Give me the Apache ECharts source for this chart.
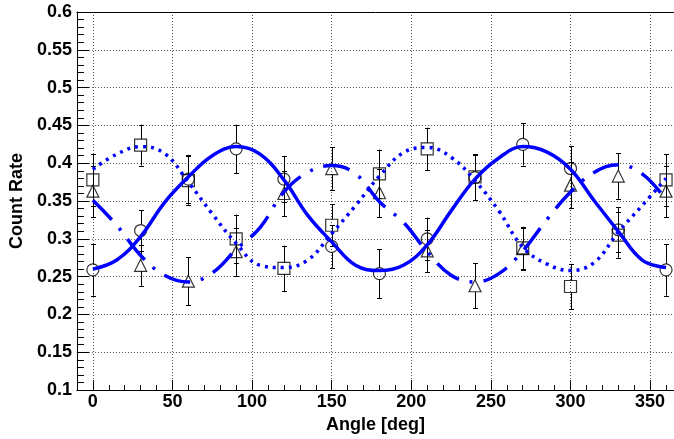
<!DOCTYPE html>
<html>
<head>
<meta charset="utf-8">
<script src="https://cdn.jsdelivr.net/npm/echarts@6/dist/echarts.min.js"></script>
<style>
  html, body { margin: 0; padding: 0; background: #fff; }
  #chart { width: 674px; height: 439px; }
</style>
</head>
<body>
<div id="chart"></div>
<script>
// Measured count rates versus polarimeter angle, three data sets
const angles = [0, 30, 60, 90, 120, 150, 180, 210, 240, 270, 300, 330, 360];
const circleRate   = [0.259, 0.311, 0.379, 0.419, 0.379, 0.290, 0.254, 0.300, 0.381, 0.425, 0.393, 0.312, 0.259];
const triangleRate = [0.363, 0.265, 0.244, 0.283, 0.360, 0.393, 0.361, 0.284, 0.238, 0.287, 0.371, 0.383, 0.363];
const squareRate   = [0.378, 0.424, 0.377, 0.300, 0.261, 0.318, 0.386, 0.419, 0.382, 0.288, 0.237, 0.305, 0.378];
const rateError    = [0.034, 0.027, 0.032, 0.032, 0.030, 0.028, 0.032, 0.028, 0.030, 0.028, 0.030, 0.030, 0.034];

// Fitted curves, sampled every 15 degrees
const fitAngles = [0, 15, 30, 45, 60, 75, 90, 105, 120, 135, 150, 165, 180,
                   195, 210, 225, 240, 255, 270, 285, 300, 315, 330, 345, 360];
const circleFit   = [0.260, 0.272, 0.303, 0.348, 0.382, 0.410, 0.422, 0.412, 0.378, 0.331, 0.296, 0.265, 0.258,
                     0.265, 0.292, 0.337, 0.379, 0.407, 0.422, 0.415, 0.392, 0.350, 0.310, 0.272, 0.262];
const squareFit   = [0.392, 0.412, 0.422, 0.413, 0.375, 0.333, 0.294, 0.265, 0.262, 0.272, 0.307, 0.344, 0.383,
                     0.414, 0.421, 0.408, 0.377, 0.337, 0.289, 0.267, 0.258, 0.269, 0.309, 0.344, 0.380];
const triangleFit = [0.351, 0.318, 0.278, 0.252, 0.243, 0.255, 0.286, 0.315, 0.362, 0.388, 0.397, 0.386, 0.349,
                     0.322, 0.283, 0.252, 0.243, 0.254, 0.284, 0.325, 0.362, 0.388, 0.398, 0.386, 0.352];

// Tick labels
const xMajorTicks = [0, 50, 100, 150, 200, 250, 300, 350];
const xMinorTicks = [0, 10, 20, 30, 40, 60, 70, 80, 90, 110, 120, 130, 140, 160, 170, 180, 190,
                     210, 220, 230, 240, 260, 270, 280, 290, 310, 320, 330, 340, 360];

const FONT = '"Liberation Sans", Arial, Helvetica, sans-serif';
const BLUE = '#0000ff';
const LABEL = { fontFamily: FONT, fontWeight: 'bold', fontSize: 18, color: '#000' };

function pairs(xs, ys) { return xs.map((x, i) => [x, ys[i]]); }

// vertical error bars with end caps, leaving a gap where the marker sits
function errorBars(values, gap) {
  return {
    type: 'custom',
    z: 2,
    silent: true,
    encode: { x: 0, y: [1, 2] },
    data: angles.map((a, i) => [a, values[i] - rateError[i], values[i] + rateError[i], values[i]]),
    renderItem(params, api) {
      const x = api.value(0);
      const lo = api.coord([x, api.value(1)]);
      const hi = api.coord([x, api.value(2)]);
      const mid = api.coord([x, api.value(3)]);
      const px = Math.round(lo[0]) + 0.5;
      const cap = 2.5;
      const style = { stroke: '#000', lineWidth: 1 };
      return {
        type: 'group',
        children: [
          { type: 'line', shape: { x1: px, y1: hi[1], x2: px, y2: mid[1] - gap }, style },
          { type: 'line', shape: { x1: px, y1: mid[1] + gap, x2: px, y2: lo[1] }, style },
          { type: 'line', shape: { x1: px - cap, y1: Math.round(hi[1]) + 0.5, x2: px + cap, y2: Math.round(hi[1]) + 0.5 }, style },
          { type: 'line', shape: { x1: px - cap, y1: Math.round(lo[1]) + 0.5, x2: px + cap, y2: Math.round(lo[1]) + 0.5 }, style }
        ]
      };
    }
  };
}

function markers(values, symbol) {
  return {
    type: 'scatter',
    z: 3,
    symbol: symbol,
    symbolSize: 12,
    data: pairs(angles, values),
    itemStyle: { color: 'rgba(0,0,0,0)', borderColor: '#000', borderWidth: 1.2 },
    emphasis: { disabled: true }
  };
}

function fitLine(values, dash) {
  return {
    type: 'line',
    z: 5,
    smooth: 0.4,
    showSymbol: false,
    silent: true,
    data: pairs(fitAngles, values),
    lineStyle: { color: BLUE, width: 3.5, type: dash, cap: 'butt' }
  };
}

const chart = echarts.init(document.getElementById('chart'), null, { renderer: 'canvas' });

chart.setOption({
  animation: false,
  backgroundColor: '#fff',
  grid: { left: 76, top: 12, width: 598, height: 380, show: false },
  xAxis: [
    {
      type: 'value', min: -10, max: 365, interval: 5, position: 'bottom',
      name: 'Angle [deg]', nameLocation: 'middle', nameGap: 20,
      nameTextStyle: LABEL,
      axisLine: { show: true, onZero: false, lineStyle: { color: '#000', width: 1 } },
      axisTick: { show: true, inside: true, length: 10, customValues: xMajorTicks, lineStyle: { color: '#000', width: 1 } },
      axisLabel: Object.assign({ customValues: xMajorTicks, margin: 3 }, LABEL),
      splitLine: { show: true, lineStyle: { color: '#555', width: 1, type: [1, 2] } }
    },
    {
      // minor ticks every 10 degrees
      type: 'value', min: -10, max: 365, interval: 5, position: 'bottom',
      axisLine: { show: false, onZero: false },
      axisTick: { show: true, inside: true, length: 5, customValues: xMinorTicks,
                  lineStyle: { color: '#000', width: 1 } },
      axisLabel: { show: false },
      splitLine: { show: false }
    },
    {
      // upper frame edge
      type: 'value', min: -10, max: 365, position: 'top',
      axisLine: { show: true, onZero: false, lineStyle: { color: '#000', width: 1 } },
      axisTick: { show: false }, axisLabel: { show: false }, splitLine: { show: false }
    }
  ],
  yAxis: {
    type: 'value', min: 0.1, max: 0.6, interval: 0.05, position: 'left',
    name: 'Count Rate', nameLocation: 'middle', nameGap: 44,
    nameTextStyle: LABEL,
    axisLine: { show: true, onZero: false, lineStyle: { color: '#000', width: 1 } },
    axisTick: { show: true, inside: true, length: 12, lineStyle: { color: '#000', width: 1 } },
    minorTick: { show: true, splitNumber: 5, length: 7, lineStyle: { color: '#000', width: 1 } },
    axisLabel: Object.assign({ margin: 5 }, LABEL),
    splitLine: { show: true, lineStyle: { color: '#555', width: 1, type: [1, 2] } }
  },
  series: [
    errorBars(circleRate, 6),
    errorBars(triangleRate, 6),
    errorBars(squareRate, 6),
    markers(circleRate, 'circle'),
    markers(triangleRate, 'triangle'),
    markers(squareRate, 'rect'),
    fitLine(circleFit, 'solid'),
    fitLine(squareFit, [3, 5]),
    fitLine(triangleFit, [27, 11, 3, 11])
  ]
});
</script>
</body>
</html>
